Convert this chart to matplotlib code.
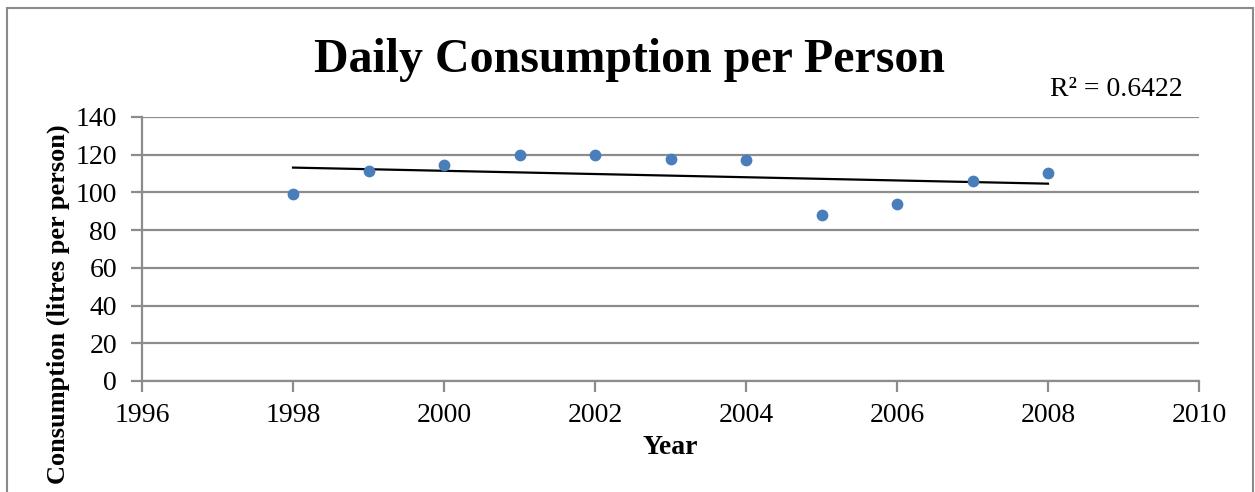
import numpy as np
import matplotlib
matplotlib.use("Agg")
import matplotlib.pyplot as plt
from matplotlib.patches import Rectangle

plt.rcParams['font.family'] = ['Liberation Serif', 'DejaVu Serif']

# values
years = [1998, 1999, 2000, 2001, 2002, 2003, 2004, 2005, 2006, 2007, 2008]
consumption = [99.1, 111.2, 114.7, 120.0, 119.8, 117.9, 117.2, 87.9, 93.8, 105.9, 110.5]
r2_label = "R² = 0.6422"
x_ticks = [1996, 1998, 2000, 2002, 2004, 2006, 2008, 2010]
y_ticks = [0, 20, 40, 60, 80, 100, 120, 140]

W, H = 1255, 492
fig = plt.figure(figsize=(W / 100, H / 100), dpi=100)

# chart-area frame (bottom edge runs off the picture)
fig.patches.append(Rectangle((7 / W, -0.05), 1246 / W, (H - 8) / H + 0.05,
                             transform=fig.transFigure, fill=False,
                             edgecolor='#8a8a8a', lw=1.5))

ax = fig.add_axes([142 / W, (H - 381) / H, (1199 - 142) / W, (381 - 117) / H])

grid_col = '#8c8c8c'
ax.set_xlim(1996, 2010)
ax.set_ylim(0, 140)
ax.set_xticks(x_ticks)
ax.set_yticks(y_ticks)
ax.yaxis.grid(True, color=grid_col, lw=1.6)
ax.set_axisbelow(True)
for side in ['top', 'right']:
    ax.spines[side].set_visible(False)
for side in ['left', 'bottom']:
    ax.spines[side].set_color(grid_col)
    ax.spines[side].set_linewidth(1.6)
ax.tick_params(axis='both', colors=grid_col, width=1.6, length=8,
               labelcolor='black', labelsize=20)
ax.tick_params(axis='y', pad=10)
ax.tick_params(axis='x', pad=8)

ax.scatter(years, consumption, s=72, color='#4a7ebb', zorder=3, lw=0)

# linear trendline
m, b = np.polyfit(years, consumption, 1)
xs = np.array([years[0], years[-1]])
ax.plot(xs, m * xs + b, color='black', lw=1.6, zorder=2)

ax.set_xlabel("Year", fontsize=20, fontweight='bold', labelpad=5)

fig.text(58 / W, 1 - 304 / H, "Consumption (litres per person)", rotation=90,
         ha='center', va='center', fontsize=19, fontweight='bold')
fig.text(630 / W, 1 - 72.5 / H, "Daily Consumption per Person",
         ha='center', va='baseline', fontsize=34.5, fontweight='bold')
fig.text(1183 / W, 1 - 96 / H, r2_label, ha='right', va='baseline', fontsize=20)

fig.savefig("out.png", dpi=100, facecolor='white')
